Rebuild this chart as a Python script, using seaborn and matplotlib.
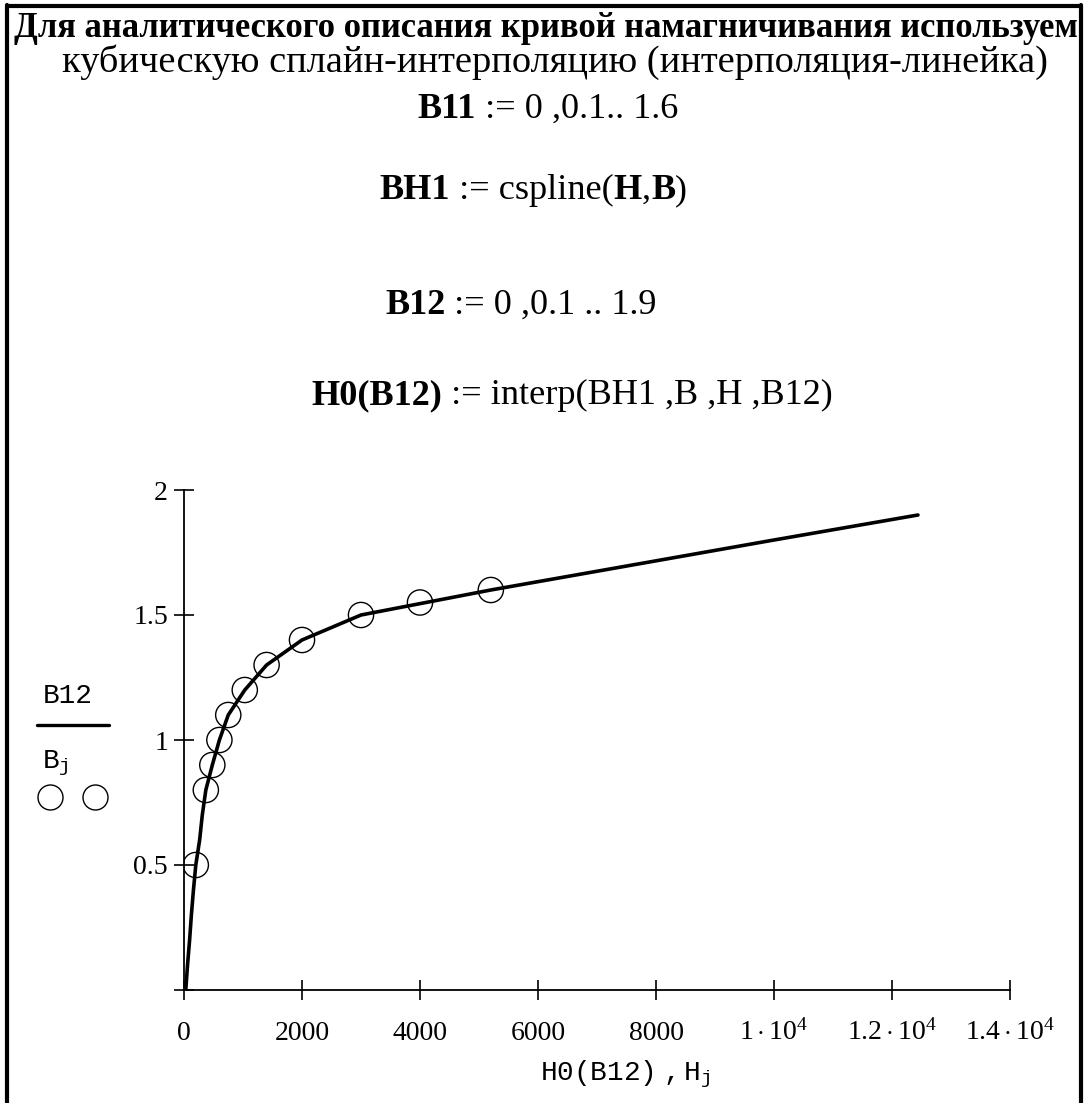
import matplotlib
matplotlib.use("Agg")
import matplotlib.pyplot as plt
from matplotlib.lines import Line2D
import seaborn as sns

# кривая намагничивания: опорные точки (H_j, B_j)
H_pts = [200, 370, 480, 600, 750, 1030, 1400, 2000, 3000, 4000, 5200]
B_pts = [0.5, 0.8, 0.9, 1.0, 1.1, 1.2, 1.3, 1.4, 1.5, 1.55, 1.6]

# сплайн H0(B12), B12 = 0 .. 1.9
B12 = [0.0, 0.1, 0.2, 0.3, 0.4, 0.5, 0.6, 0.7, 0.8, 0.9,
       1.0, 1.1, 1.2, 1.3, 1.4, 1.5, 1.6, 1.7, 1.8, 1.9]
H0 = [30, 60, 95, 125, 160, 200, 265, 310, 370, 480,
      600, 750, 1030, 1400, 2000, 3000, 5200, 7600, 10000, 12440]

XTICKS = [0, 2000, 4000, 6000, 8000, 10000, 12000, 14000]
XTICK_LABELS = ["0", "2000", "4000", "6000", "8000",
                r"$1\cdot10^{4}$", r"$1.2\cdot10^{4}$", r"$1.4\cdot10^{4}$"]
YTICKS = [0, 0.5, 1, 1.5, 2]
YTICK_LABELS = ["", "0.5", "1", "1.5", "2"]

W, H = 1085, 1103
SERIF = "Liberation Serif"
MONO = "Liberation Mono"

sns.set_theme(style="ticks")
plt.rcParams["font.family"] = [SERIF, "DejaVu Sans"]
plt.rcParams["mathtext.fontset"] = "custom"
plt.rcParams["mathtext.rm"] = SERIF
plt.rcParams["mathtext.it"] = SERIF + ":italic"
plt.rcParams["mathtext.tt"] = MONO

fig = plt.figure(figsize=(W / 100, H / 100), dpi=100, facecolor="white")
renderer = fig.canvas.get_renderer()


def fx(px):
    return px / W


def fy(py):
    return 1 - py / H


def text_width(txt, size, weight):
    t = fig.text(0, 0, txt, fontsize=size, fontweight=weight, family=SERIF)
    w = t.get_window_extent(renderer).width
    t.remove()
    return w


def fit_size(parts, width, size=20):
    w = sum(text_width(t, size, wt) for t, wt in parts)
    return size * width / w


def put_parts(parts, x_split, base, size):
    # первый кусок заканчивается в x_split, остальные идут за ним
    x = x_split - text_width(parts[0][0], size, parts[0][1])
    for txt, wt in parts:
        fig.text(fx(x), fy(base), txt, ha="left", va="baseline",
                 fontsize=size, fontweight=wt, family=SERIF, color="black")
        x += text_width(txt, size, wt)


# шапка
line1 = [("Для аналитического описания кривой намагничивания используем", "bold")]
line2 = [("кубическую сплайн-интерполяцию (интерполяция-линейка)", "normal")]
s1 = fit_size(line1, 1064)
s2 = fit_size(line2, 988)
put_parts(line1, 14 + text_width(line1[0][0], s1, "bold"), 37, s1)
put_parts(line2, 62 + text_width(line2[0][0], s2, "normal"), 72, s2)

f_b11 = [("B11", "bold"), (" := 0 ,0.1.. 1.6", "normal")]
f_bh1 = [("BH1", "bold"), (" := cspline(", "normal"), ("H", "bold"),
         (",", "normal"), ("B", "bold"), (")", "normal")]
f_b12 = [("B12", "bold"), (" := 0 ,0.1 .. 1.9", "normal")]
f_h0 = [("H0(B12)", "bold"), (" := interp(BH1 ,B ,H ,B12)", "normal")]
fs = fit_size(f_b12, 273)
put_parts(f_b11, 476, 118, fs)
put_parts(f_bh1, 450, 199, fs)
put_parts(f_b12, 385 + text_width("B12", fs, "bold"), 314, fs)
put_parts(f_h0, 442, 404, fs)

# график
ax = fig.add_axes([fx(184), fy(990), fx(1010) - fx(184), (990 - 490) / H])
ax.set_facecolor("white")
sns.lineplot(x=H0, y=B12, sort=False, color="black", linewidth=2.6, ax=ax)
sns.scatterplot(x=H_pts, y=B_pts, marker="o", s=330, facecolor="none",
                edgecolor="black", linewidth=1.0, ax=ax, zorder=3)

ax.set_xlim(0, 14000)
ax.set_ylim(0, 2)
ax.set_xticks(XTICKS)
ax.set_xticklabels(XTICK_LABELS)
ax.set_yticks(YTICKS)
ax.set_yticklabels(YTICK_LABELS)
ax.tick_params(axis="both", direction="inout", length=14, width=1.2,
               colors="black", labelsize=20)
ax.tick_params(axis="x", pad=29)
ax.tick_params(axis="y", pad=4.5)
for lbl in ax.get_xticklabels():
    lbl.set_va("baseline")
sns.despine(ax=ax)
for side in ("left", "bottom"):
    ax.spines[side].set_linewidth(1.3)
    ax.spines[side].set_color("black")
ax.set_xlabel("")
ax.set_ylabel("")

# подпись оси x
fig.text(fx(625), fy(1080), r"$\mathtt{H0(B12)\ ,H}_{\mathtt{j}}$",
         ha="center", va="baseline", fontsize=20, color="black")

# подпись оси y: B12 / B_j и маркеры
fig.text(fx(68), fy(703), "B12", ha="center", va="baseline", family=MONO,
         fontsize=20, color="black")
fig.add_artist(Line2D([fx(37), fx(109)], [fy(725), fy(725)], color="black",
                      linewidth=2.4, transform=fig.transFigure))
fig.text(fx(42), fy(768), r"$\mathtt{B}_{\mathtt{j}}$", ha="left", va="baseline",
         fontsize=20, color="black")
fig.add_artist(Line2D([fx(50), fx(95)], [fy(797), fy(797)], linestyle="none",
                      marker="o", markersize=18, markerfacecolor="none",
                      markeredgecolor="black", markeredgewidth=1.0,
                      transform=fig.transFigure))

# рамка
for xs, ys in (([7, 7], [5, H]), ([7, 1081], [6, 6]), ([1081, 1081], [5, H])):
    fig.add_artist(Line2D([fx(v) for v in xs], [fy(v) for v in ys], color="black",
                          linewidth=3.0, transform=fig.transFigure))

fig.savefig("out.png", dpi=100, facecolor="white")
